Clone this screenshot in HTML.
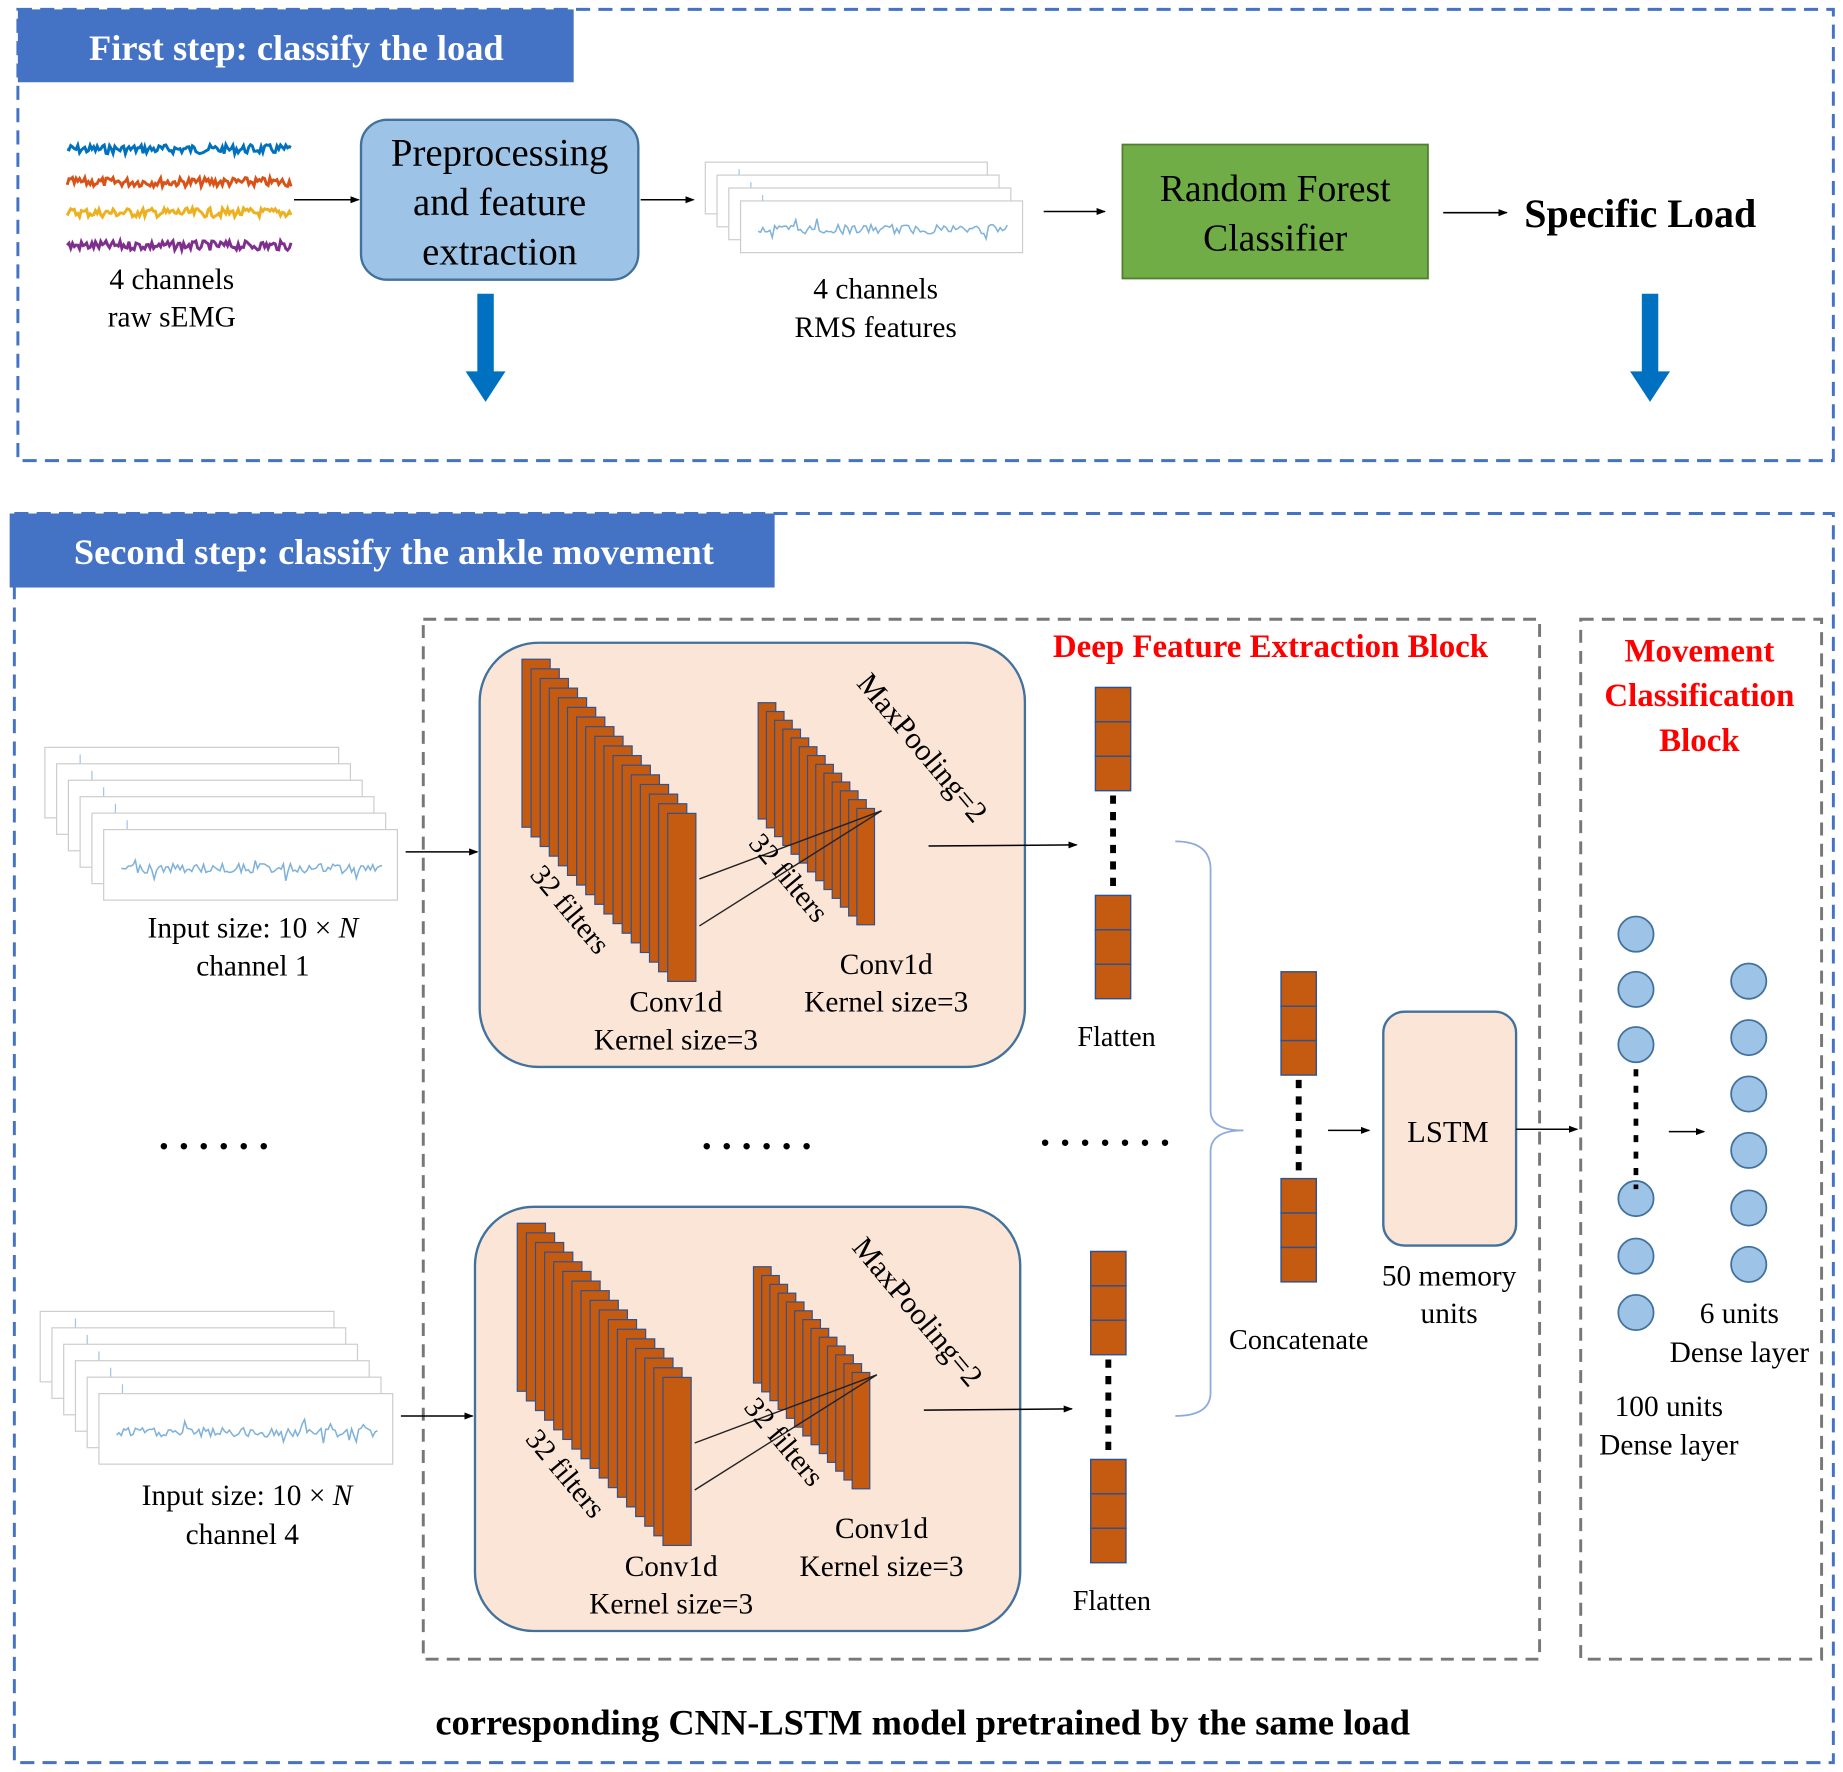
<!DOCTYPE html>
<html><head><meta charset="utf-8"><style>
html,body{margin:0;padding:0;background:#fff}
svg{display:block;font-family:"Liberation Serif","Times New Roman","DejaVu Serif",serif}
svg text{font-family:"Liberation Serif","Times New Roman","DejaVu Serif",serif}
</style></head><body>
<svg id="s" width="1843" height="1772" viewBox="0 0 1568 1508" xmlns="http://www.w3.org/2000/svg" font-family="Liberation Serif, serif">
<defs>
<marker id="ah" markerWidth="8" markerHeight="8" refX="7" refY="4" orient="auto" markerUnits="userSpaceOnUse"><path d="M0,1 L8,4 L0,7 Z" fill="#000"/></marker>
</defs>
<rect width="1568" height="1508" fill="#fff"/>
<rect x="15" y="8" width="1545" height="384" fill="none" stroke="#4472C4" stroke-width="2.5" stroke-dasharray="12,7"/>
<rect x="15" y="8" width="473" height="62" fill="#4472C4"/>
<text x="252" y="51" font-size="31" font-weight="bold" fill="#fff" text-anchor="middle">First step: classify the load</text>
<g id="raw"></g>
<text x="146" y="246" font-size="25" text-anchor="middle">4 channels</text>
<text x="146" y="278" font-size="25" text-anchor="middle">raw sEMG</text>
<line x1="250" y1="170" x2="305" y2="170" stroke="#000" stroke-width="1.3" marker-end="url(#ah)"/>
<rect x="307" y="102" width="236" height="136" rx="22" fill="#9DC3E6" stroke="#41719C" stroke-width="2"/>
<text x="425" y="141" font-size="33" text-anchor="middle">Preprocessing</text>
<text x="425" y="183" font-size="33" text-anchor="middle">and feature</text>
<text x="425" y="225" font-size="33" text-anchor="middle">extraction</text>
<path d="M406,250 H420 V316 H430 L413,342 L396,316 H406 Z" fill="#0070C0"/>
<line x1="545" y1="170" x2="590" y2="170" stroke="#000" stroke-width="1.3" marker-end="url(#ah)"/>
<g id="rms"></g>
<text x="745" y="254" font-size="25" text-anchor="middle">4 channels</text>
<text x="745" y="287" font-size="25" text-anchor="middle">RMS features</text>
<line x1="888" y1="180" x2="940" y2="180" stroke="#000" stroke-width="1.3" marker-end="url(#ah)"/>
<rect x="955" y="123" width="260" height="114" fill="#70AD47" stroke="#507E32" stroke-width="1.5"/>
<text x="1085" y="171" font-size="32" text-anchor="middle">Random Forest</text>
<text x="1085" y="213" font-size="32" text-anchor="middle">Classifier</text>
<line x1="1228" y1="181" x2="1282" y2="181" stroke="#000" stroke-width="1.3" marker-end="url(#ah)"/>
<text x="1297" y="193" font-size="34" font-weight="bold">Specific Load</text>
<path d="M1397,250 H1411 V316 H1421 L1404,342 L1387,316 H1397 Z" fill="#0070C0"/>

<rect x="12" y="437" width="1548" height="1063" fill="none" stroke="#4472C4" stroke-width="2.5" stroke-dasharray="12,7"/>
<rect x="8" y="437" width="651" height="63" fill="#4472C4"/>
<text x="335" y="480" font-size="31" font-weight="bold" fill="#fff" text-anchor="middle">Second step: classify the ankle movement</text>
<rect x="360" y="527" width="950" height="885" fill="none" stroke="#777" stroke-width="2.5" stroke-dasharray="11,7"/>
<text x="1081" y="559" font-size="28" font-weight="bold" fill="#FF0000" text-anchor="middle">Deep Feature Extraction Block</text>
<rect x="1345" y="527" width="205" height="885" fill="none" stroke="#777" stroke-width="2.5" stroke-dasharray="11,7"/>
<text x="1446" y="563" font-size="28" font-weight="bold" fill="#FF0000" text-anchor="middle">Movement</text>
<text x="1446" y="601" font-size="28" font-weight="bold" fill="#FF0000" text-anchor="middle">Classification</text>
<text x="1446" y="639" font-size="28" font-weight="bold" fill="#FF0000" text-anchor="middle">Block</text>
<g id="ch1"></g>
<g id="ch4" transform="translate(-4,480)"></g>
<text x="215" y="798" font-size="25" text-anchor="middle">Input size: 10 × <tspan font-style="italic">N</tspan></text>
<text x="215" y="830" font-size="25" text-anchor="middle">channel 1</text>
<text x="210" y="1281" font-size="25" text-anchor="middle">Input size: 10 × <tspan font-style="italic">N</tspan></text>
<text x="206" y="1314" font-size="25" text-anchor="middle">channel 4</text>
<g font-size="34" font-weight="bold">
<text x="135" y="978">. . . . . .</text>
<text x="597" y="978">. . . . . .</text>
<text x="885" y="975">. . . . . . .</text>
</g>
<path d="M1000,716 Q1030,716 1030,740 V945 Q1030,962 1058,962 Q1030,962 1030,980 V1185 Q1030,1205 1000,1205" fill="none" stroke="#8FAADC" stroke-width="1.5"/>
<g id="concat"></g>
<text x="1105" y="1148" font-size="24" text-anchor="middle">Concatenate</text>
<line x1="1130" y1="962" x2="1165" y2="962" stroke="#000" stroke-width="1.3" marker-end="url(#ah)"/>
<rect x="1177" y="861" width="113" height="199" rx="18" fill="#FBE5D6" stroke="#41719C" stroke-width="2"/>
<text x="1232" y="972" font-size="26" text-anchor="middle">LSTM</text>
<text x="1233" y="1094" font-size="25" text-anchor="middle">50 memory</text>
<text x="1233" y="1126" font-size="25" text-anchor="middle">units</text>
<line x1="1290" y1="961" x2="1342" y2="961" stroke="#000" stroke-width="1.3" marker-end="url(#ah)"/>
<g id="dense"></g>
<line x1="1420" y1="963" x2="1450" y2="963" stroke="#000" stroke-width="1.3" marker-end="url(#ah)"/>
<text x="1480" y="1126" font-size="25" text-anchor="middle">6 units</text>
<text x="1480" y="1159" font-size="25" text-anchor="middle">Dense layer</text>
<text x="1420" y="1205" font-size="25" text-anchor="middle">100 units</text>
<text x="1420" y="1238" font-size="25" text-anchor="middle">Dense layer</text>
<text x="785" y="1476" font-size="31" font-weight="bold" text-anchor="middle">corresponding CNN-LSTM model pretrained by the same load</text>
</svg>
<script>
var NS="http://www.w3.org/2000/svg";
function el(p,t,a,txt){var e=document.createElementNS(NS,t);for(var k in a)e.setAttribute(k,a[k]);if(txt)e.textContent=txt;p.appendChild(e);return e;}
var seed=7;function rnd(){seed=(seed*9301+49297)%233280;return seed/233280;}
function wig(x0,x1,y,amp,step){var s="";for(var x=x0;x<=x1;x+=step){s+=x.toFixed(1)+","+(y+(rnd()-0.5)*2*amp).toFixed(1)+" ";}return s;}
function sig(x0,x1,y){var s="";for(var x=x0;x<=x1;x+=2){var a=(rnd()<0.08)?12:4;s+=x+","+(y+(rnd()-0.5)*2*a).toFixed(1)+" ";}return s;}
var raw=document.getElementById("raw");
[["#0072BD",127],["#D95319",155],["#EDB120",181],["#7E2F8E",209]].forEach(function(c){el(raw,"polyline",{points:wig(57,248,c[1],4,1.5),fill:"none",stroke:c[0],"stroke-width":2.5});});
function stack(g,x0,y0,w,h,n,dx,dy){for(var i=0;i<n;i++){var x=x0+i*dx,y=y0+i*dy;el(g,"rect",{x:x,y:y,width:w,height:h,fill:"#fff",stroke:"#ccc","stroke-width":1});if(i<n-1){el(g,"line",{x1:x+w*0.12,y1:y+6,x2:x+w*0.12,y2:y+dy,stroke:"#9DC3E6","stroke-width":1});}}
var lx=x0+(n-1)*dx,ly=y0+(n-1)*dy;el(g,"polyline",{points:sig(lx+15,lx+w-12,ly+h*0.55),fill:"none",stroke:"#7FB2DA","stroke-width":1.3});}
stack(document.getElementById("rms"),600,138,240,44,4,10,11);
function block(g){
 stack(el(g,"g",{}),38,636,250,60,6,10,14);
 el(g,"line",{x1:345,y1:725,x2:406,y2:725,stroke:"#000","stroke-width":1.3,"marker-end":"url(#ah)"});
 el(g,"rect",{x:408,y:547,width:464,height:361,rx:50,fill:"#FBE5D6",stroke:"#41719C","stroke-width":2});
 for(var i=0;i<17;i++)el(g,"rect",{x:444+i*7.75,y:561+i*8.2,width:24,height:143,fill:"#C55A11",stroke:"#2F528F","stroke-width":1});
 for(var i=0;i<13;i++)el(g,"rect",{x:645+i*7,y:598+i*7.5,width:15,height:99,fill:"#C55A11",stroke:"#2F528F","stroke-width":1});
 el(g,"line",{x1:595,y1:748,x2:750,y2:690,stroke:"#222","stroke-width":1.2});
 el(g,"line",{x1:595,y1:788,x2:750,y2:690,stroke:"#222","stroke-width":1.2});
 el(g,"text",{x:0,y:0,"font-size":25,transform:"translate(450,745) rotate(50)"},"32 filters");
 el(g,"text",{x:0,y:0,"font-size":25,transform:"translate(636,718) rotate(50)"},"32 filters");
 el(g,"text",{x:0,y:0,"font-size":26,transform:"translate(728,582) rotate(50)"},"MaxPooling=2");
 el(g,"text",{x:575,y:861,"font-size":25,"text-anchor":"middle"},"Conv1d");
 el(g,"text",{x:575,y:893,"font-size":25,"text-anchor":"middle"},"Kernel size=3");
 el(g,"text",{x:754,y:829,"font-size":25,"text-anchor":"middle"},"Conv1d");
 el(g,"text",{x:754,y:861,"font-size":25,"text-anchor":"middle"},"Kernel size=3");
 el(g,"line",{x1:790,y1:720,x2:916,y2:719,stroke:"#000","stroke-width":1.3,"marker-end":"url(#ah)"});
 col(g,932,585,762);
 el(g,"text",{x:950,y:890,"font-size":24,"text-anchor":"middle"},"Flatten");
}
function col(g,x,y1,y2){
 [y1,y2].forEach(function(y){for(var k=0;k<3;k++)el(g,"rect",{x:x,y:y+k*29.3,width:30,height:29.3,fill:"#C55A11",stroke:"#2F528F","stroke-width":1.2});});
 el(g,"line",{x1:x+15,y1:y1+92,x2:x+15,y2:y2-3,stroke:"#000","stroke-width":5,"stroke-dasharray":"7,7"});
}
block(document.getElementById("ch1"));
block(document.getElementById("ch4"));
col(document.getElementById("concat"),1090,827,1003);
var d=document.getElementById("dense");
[795,842,889,1020,1069,1117].forEach(function(y){el(d,"circle",{cx:1392,cy:y,r:15,fill:"#9DC3E6",stroke:"#41719C","stroke-width":1.5});});
el(d,"line",{x1:1392,y1:910,x2:1392,y2:1012,stroke:"#000","stroke-width":4,"stroke-dasharray":"6,8"});
[835,883,931,979,1028,1076].forEach(function(y){el(d,"circle",{cx:1488,cy:y,r:15,fill:"#9DC3E6",stroke:"#41719C","stroke-width":1.5});});
</script>
</body></html>
